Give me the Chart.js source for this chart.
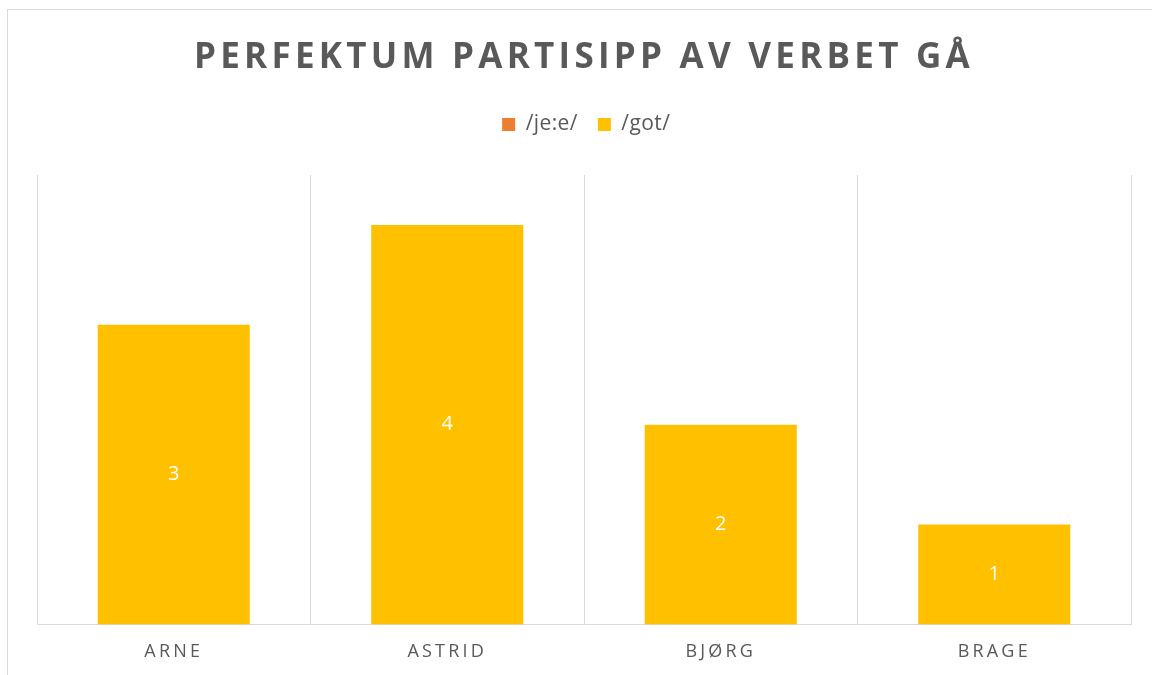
<!DOCTYPE html>
<html>
<head>
<meta charset="utf-8">
<script src="https://cdn.jsdelivr.net/npm/chart.js@4/dist/chart.umd.min.js"></script>
<style>
  html, body { margin: 0; padding: 0; background: #fff; overflow: hidden; }
  #frame { position: absolute; left: 7px; top: 9px; width: 1150px; height: 690px; border: 1px solid #d9d9d9; box-sizing: border-box; }
  #wrap { position: absolute; left: 0; top: 0; width: 1150px; height: 670px; }
</style>
</head>
<body>
<div id="frame"><div id="wrap"><canvas id="c"></canvas></div></div>
<script>
const categories = ['ARNE', 'ASTRID', 'BJØRG', 'BRAGE'];
const seriesNames = ['/je:e/', '/got/'];
const jeeValues = [0, 0, 0, 0];
const gotValues = [3, 4, 2, 1];
const titleText = 'PERFEKTUM PARTISIPP AV VERBET GÅ';

const TEXT = '#595959';
const GRID = '#d9d9d9';

function wrapMethod(obj, name, sp) {
  if (!obj) return;
  const flag = '_sp_' + name;
  if (obj[flag]) return;
  const orig = obj[name];
  obj[name] = function (...a) {
    const ctx = this.ctx;
    ctx.save();
    ctx.letterSpacing = sp;
    const r = orig.apply(this, a);
    ctx.restore();
    return r;
  };
  obj[flag] = true;
}

const layoutTweaks = {
  id: 'layoutTweaks',
  beforeLayout(chart) {
    const lg = chart.legend;
    if (lg && !lg._fitWrapped) {
      const f = lg.fit;
      lg.fit = function (...a) {
        const r = f.apply(this, a);
        this.height += 30;
        return r;
      };
      lg._fitWrapped = true;
    }
  },
  beforeDraw(chart) {
    wrapMethod(chart.titleBlock, 'draw', '4.25px');
    wrapMethod(chart.scales.x, 'drawLabels', '3.2px');
    wrapMethod(chart.legend, 'draw', '0.4px');
  }
};

const valueLabels = {
  id: 'valueLabels',
  afterDatasetsDraw(chart) {
    const ctx = chart.ctx;
    const meta = chart.getDatasetMeta(1);
    ctx.save();
    ctx.fillStyle = '#ffffff';
    ctx.font = '20px "Open Sans", sans-serif';
    ctx.textAlign = 'center';
    ctx.textBaseline = 'middle';
    meta.data.forEach((bar, i) => {
      const v = chart.data.datasets[1].data[i];
      const cy = (bar.y + bar.base) / 2;
      ctx.fillText(String(v), bar.x, cy);
    });
    ctx.restore();
  }
};

new Chart(document.getElementById('c'), {
  type: 'bar',
  data: {
    labels: categories,
    datasets: [
      { label: seriesNames[0], data: jeeValues, backgroundColor: '#ED7D31', categoryPercentage: 1, barPercentage: 0.556 },
      { label: seriesNames[1], data: gotValues, backgroundColor: '#FFC000', categoryPercentage: 1, barPercentage: 0.556 }
    ]
  },
  options: {
    responsive: true,
    maintainAspectRatio: false,
    animation: false,
    layout: { padding: { left: 29, right: 27, top: 2, bottom: 0 } },
    plugins: {
      title: {
        display: true,
        text: titleText,
        color: TEXT,
        font: { family: '"Open Sans", sans-serif', size: 35, weight: 'bold', lineHeight: 1.2 },
        padding: { top: 25, bottom: 15 }
      },
      legend: {
        display: true,
        labels: {
          color: TEXT,
          font: { family: '"Open Sans", sans-serif', size: 21 },
          boxWidth: 13,
          boxHeight: 13,
          padding: 20
        }
      },
      tooltip: { enabled: false }
    },
    scales: {
      x: {
        stacked: true,
        grid: { display: true, color: GRID, lineWidth: 1, drawTicks: false, offset: true },
        border: { display: true, color: GRID, width: 1 },
        ticks: { color: TEXT, font: { family: '"Open Sans", sans-serif', size: 18 }, padding: 17 }
      },
      y: {
        stacked: true,
        display: false,
        min: 0,
        max: 4.5
      }
    }
  },
  plugins: [layoutTweaks, valueLabels]
});
</script>
</body>
</html>
